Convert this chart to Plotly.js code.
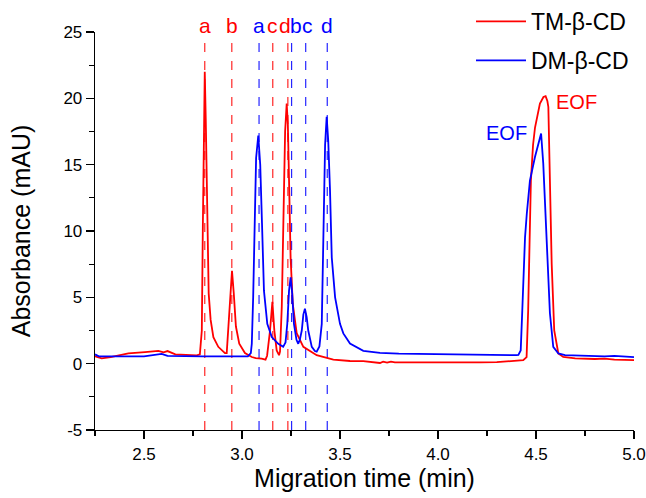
<!DOCTYPE html>
<html>
<head>
<meta charset="utf-8">
<script src="https://cdn.plot.ly/plotly-3.0.1.min.js"></script>
<style>html,body{margin:0;padding:0;background:#fff;}#chart{width:646px;height:498px;}</style>
</head>
<body>
<div id="chart"></div>
<script>
// ---- Data ----
const seriesNames = ["TM-β-CD", "DM-β-CD"];

const tmTime = [2.25,2.284,2.33,2.42,2.505,2.573,2.60,2.62,2.66,2.72,2.769,2.785,2.795,2.800,2.806,2.810,2.815,2.820,2.825,2.830,2.840,2.854,2.879,2.913,2.922,2.930,2.939,2.949,2.958,2.969,2.986,3.015,3.05,3.07,3.10,3.12,3.128,3.134,3.143,3.155,3.165,3.177,3.189,3.194,3.203,3.211,3.220,3.228,3.234,3.241,3.248,3.259,3.279,3.313,3.381,3.466,3.551,3.619,3.68,3.704,3.72,3.74,3.76,3.78,3.85,3.96,4.10,4.214,4.30,4.367,4.435,4.452,4.460,4.467,4.474,4.485,4.495,4.520,4.538,4.549,4.558,4.563,4.567,4.571,4.580,4.593,4.614,4.639,4.70,4.80,4.85,4.90,4.95,5.00];
const tmAbs = [0.55,0.40,0.50,0.77,0.87,0.97,0.85,0.95,0.70,0.68,0.63,0.70,2.5,10.0,19.0,22.0,18.5,12.8,7.8,5.3,3.3,2.0,1.27,0.80,0.80,2.8,5.3,7.0,5.3,2.8,1.5,0.8,0.5,0.42,0.38,0.30,0.6,1.27,2.5,4.66,2.5,1.0,0.64,0.9,4.3,10.6,17.5,19.6,18.0,13.1,8.0,4.5,2.3,1.27,0.64,0.30,0.20,0.19,0.12,0.05,0.15,0.08,0.15,0.09,0.10,0.09,0.10,0.09,0.12,0.19,0.26,0.5,4.0,9.0,13.8,16.5,17.8,19.6,20.1,20.16,19.8,19.35,16.5,13.8,7.55,2.5,0.77,0.51,0.40,0.35,0.38,0.30,0.28,0.26];

const dmTime = [2.25,2.27,2.40,2.50,2.59,2.62,2.80,2.95,3.03,3.045,3.050,3.057,3.063,3.072,3.083,3.093,3.102,3.112,3.129,3.152,3.185,3.21,3.222,3.231,3.240,3.248,3.256,3.265,3.278,3.287,3.295,3.305,3.313,3.321,3.330,3.338,3.356,3.372,3.381,3.395,3.407,3.415,3.424,3.432,3.440,3.449,3.458,3.475,3.50,3.517,3.551,3.619,3.704,3.80,3.959,4.10,4.214,4.30,4.40,4.41,4.422,4.430,4.435,4.444,4.453,4.469,4.495,4.512,4.526,4.537,4.554,4.571,4.588,4.614,4.648,4.75,4.85,4.90,4.95,5.00];
const dmAbs = [0.70,0.55,0.55,0.55,0.73,0.58,0.55,0.55,0.55,0.8,1.5,5.0,10.6,15.5,17.2,15.0,10.6,5.5,3.0,2.0,1.5,1.27,1.6,3.0,5.5,6.5,5.3,3.0,1.8,1.5,1.8,2.5,3.7,4.15,3.5,2.5,1.27,0.95,0.9,1.3,3.0,10.6,16.5,18.6,16.8,13.1,8.0,5.0,3.0,2.28,1.52,0.97,0.82,0.76,0.72,0.68,0.64,0.64,0.64,0.66,1.0,4.0,6.3,9.5,11.3,13.8,15.6,16.5,17.35,15.1,8.8,3.8,1.27,0.77,0.64,0.58,0.55,0.58,0.52,0.50];

// Peak marker positions (dashed lines) and labels
const tmPeakTimes = [2.81, 2.948, 3.157, 3.234];
const tmPeakLabels = ["a", "b", "c", "d"];
const dmPeakTimes = [3.087, 3.253, 3.325, 3.435];
const dmPeakLabels = ["a", "b", "c", "d"];

// EOF labels
const eofLabels = ["EOF", "EOF"];
const eofTimes = [4.709, 4.347];
const eofAbs = [19.7, 17.4];

const xTickVals = [2.5, 3.0, 3.5, 4.0, 4.5, 5.0];
const xTickText = ["2.5", "3.0", "3.5", "4.0", "4.5", "5.0"];
const yTickVals = [-5, 0, 5, 10, 15, 20, 25];
const yTickText = ["-5", "0", "5", "10", "15", "20", "25"];

// ---- Styling ----
const RED = "#ff0000", BLUE = "#0000ff";
const FONT = "Liberation Sans, Arial, sans-serif";
const colors = [RED, BLUE];

const traces = [
  {x: tmTime, y: tmAbs, name: seriesNames[0], legendgroup: "g1", type: "scatter", mode: "lines",
   line: {color: RED, width: 1.8}},
  {x: dmTime, y: dmAbs, name: seriesNames[1], legendgroup: "g2", type: "scatter", mode: "lines",
   line: {color: BLUE, width: 1.8}}
];

const shapes = [];
const annotations = [];
const labelShift = {"0-3": -3, "1-1": 4, "1-2": 2};
[[tmPeakTimes, tmPeakLabels], [dmPeakTimes, dmPeakLabels]].forEach(([times, labels], si) => {
  times.forEach((t, i) => {
    shapes.push({type: "line", xref: "x", yref: "y", x0: t, x1: t, y0: -5, y1: 24.4,
      line: {color: colors[si], width: 1.2, dash: "dash"}, opacity: 0.85, layer: "below"});
    annotations.push({x: t, xref: "x", y: 1.016, yref: "paper", text: labels[i], showarrow: false,
      xanchor: "center", yanchor: "middle", xshift: labelShift[si + "-" + i] || 0,
      font: {family: FONT, size: 21, color: colors[si]}});
  });
});
eofLabels.forEach((lab, i) => {
  annotations.push({x: eofTimes[i], y: eofAbs[i], xref: "x", yref: "y", text: lab, showarrow: false,
    xanchor: "center", yanchor: "middle", font: {family: FONT, size: 20, color: colors[i]}});
});

const axisCommon = {
  showline: true, linecolor: "#000", linewidth: 1.3, mirror: false,
  showgrid: false, zeroline: false, ticks: "outside", ticklen: 8, tickwidth: 1.3, tickcolor: "#000",
  tickfont: {family: FONT, size: 17, color: "#000"}
};

const layout = {
  width: 646, height: 498,
  margin: {l: 95, r: 12, t: 32, b: 68, autoexpand: false},
  paper_bgcolor: "#fff", plot_bgcolor: "#fff",
  font: {family: FONT, color: "#000"},
  xaxis: Object.assign({}, axisCommon, {
    range: [2.25, 5.0], tickvals: xTickVals, ticktext: xTickText,
    minor: {dtick: 0.25, tick0: 2.25, ticks: "outside", ticklen: 5, tickwidth: 1.2, tickcolor: "#000", showgrid: false},
    title: {text: "Migration time (min)", font: {family: FONT, size: 25, color: "#000"}, standoff: 6},
    automargin: false
  }),
  yaxis: Object.assign({}, axisCommon, {
    range: [-5, 25], tickvals: yTickVals, ticktext: yTickText,
    minor: {dtick: 2.5, tick0: 0, ticks: "outside", ticklen: 5, tickwidth: 1.2, tickcolor: "#000", showgrid: false},
    title: {text: "Absorbance (mAU)", font: {family: FONT, size: 25, color: "#000"}, standoff: 25},
    automargin: false
  }),
  showlegend: true,
  legend: {x: 1, xanchor: "right", xref: "paper", y: 1.012, yref: "container", yanchor: "top", bgcolor: "rgba(0,0,0,0)",
    font: {family: FONT, size: 23, color: "#000"}, tracegroupgap: 6, itemwidth: 50},
  shapes: shapes,
  annotations: annotations
};

Plotly.newPlot("chart", traces, layout, {displayModeBar: false, staticPlot: true});
</script>
</body>
</html>
